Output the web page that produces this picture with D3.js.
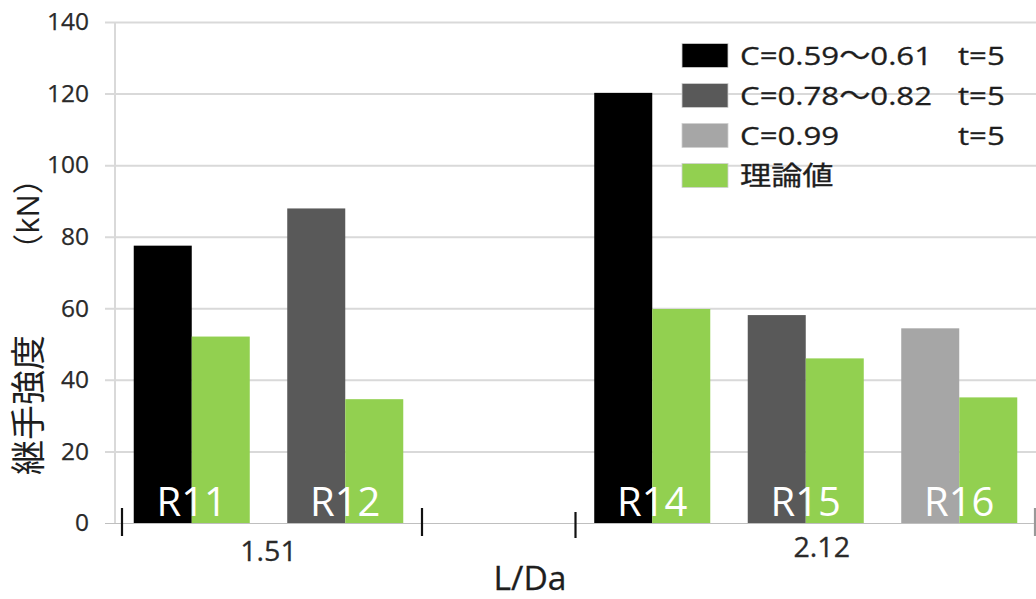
<!DOCTYPE html>
<html>
<head>
<meta charset="utf-8">
<script src="https://cdn.jsdelivr.net/npm/d3@7/dist/d3.min.js"></script>
<style>
  html, body { margin: 0; padding: 0; background: #fff; }
  svg { display: block; }
  text { font-family: 'Open Sans', 'Noto Sans CJK JP', sans-serif; }
</style>
</head>
<body>
<svg id="chart" width="1036" height="599"></svg>
<script>
// Specimens along the category axis (R13 has no result)
const categories = ["R11", "R12", "R13", "R14", "R15", "R16"];
// Measured joint strength (kN)
const measured = [77.5, 87.9, null, 120.2, 58.1, 54.4];
// Which C range each measured bar belongs to (index into seriesNames)
const cGroup = [0, 1, null, 0, 1, 2];
// Theoretical strength (kN)
const theory = [52.1, 34.6, null, 59.8, 46.0, 35.1];

// Legend entries
const seriesNames = ["C=0.59～0.61", "C=0.78～0.82", "C=0.99", "理論値"];
const seriesSuffix = ["t=5", "t=5", "t=5", ""];
const seriesColors = ["#000000", "#595959", "#a6a6a6", "#92d050"];

// L/Da groups along the axis
const groupLabels = ["1.51", "2.12"];
const groupMembers = [["R11", "R12"], ["R14", "R15", "R16"]];

const yTicks = [0, 20, 40, 60, 80, 100, 120, 140];

const svg = d3.select("#chart");
const plotLeft = 115, plotRight = 1036, plotTop = 22, plotBottom = 523;
const ink = "#1e1e1e";

const x = d3.scaleBand().domain(categories).range([plotLeft, plotRight]).paddingInner(0).paddingOuter(0);
const xs = d3.scaleBand().domain(["measured", "theory"]).range([0, x.bandwidth()])
  .paddingInner(0).paddingOuter(0.323);
const y = d3.scaleLinear().domain([0, 140]).range([plotBottom, plotTop]);

// Gridlines + y axis
const yAxis = d3.axisLeft(y).tickValues(yTicks).tickSize(-(plotRight - plotLeft + 10)).tickPadding(18);
const gy = svg.append("g").attr("transform", `translate(${plotLeft - 10},0)`).call(yAxis);
gy.select(".domain").remove();
gy.selectAll(".tick line").attr("stroke", "#d9d9d9").attr("stroke-width", 2);
gy.selectAll(".tick text")
  .attr("font-size", 24.5).attr("fill", "#2a2a2a").attr("x", -16)
  .attr("stroke", "#2a2a2a").attr("stroke-width", 0.25)
  .attr("font-family", "'Open Sans', sans-serif");
gy.selectAll(".tick").filter(d => d === 0).select("line").attr("stroke", "#bfbfbf").attr("stroke-width", 1.2);

svg.append("line").attr("x1", plotLeft).attr("x2", plotLeft).attr("y1", plotTop).attr("y2", plotBottom)
  .attr("stroke", "#d9d9d9").attr("stroke-width", 2);

// Bars
const rows = categories.map((c, i) => ({ c, i, m: measured[i], t: theory[i], g: cGroup[i] }))
  .filter(d => d.m != null);

const barG = svg.append("g");
barG.selectAll("rect.m").data(rows).join("rect").attr("class", "m")
  .attr("x", d => x(d.c) + xs("measured"))
  .attr("width", xs.bandwidth())
  .attr("y", d => y(d.m))
  .attr("height", d => y(0) - y(d.m))
  .attr("fill", d => seriesColors[d.g]);
barG.selectAll("rect.t").data(rows).join("rect").attr("class", "t")
  .attr("x", d => x(d.c) + xs("theory"))
  .attr("width", xs.bandwidth())
  .attr("y", d => y(d.t))
  .attr("height", d => y(0) - y(d.t))
  .attr("fill", seriesColors[3]);

// Specimen names inside the bars
barG.selectAll("text.lab").data(rows).join("text").attr("class", "lab")
  .attr("x", d => x(d.c) + x.bandwidth() / 2)
  .attr("y", plotBottom - 7)
  .attr("text-anchor", "middle")
  .attr("font-size", 40)
  .attr("fill", "#fff")
  .text(d => d.c);

// Group divider marks on the category axis
const groupEdges = [];
groupMembers.forEach(m => {
  groupEdges.push(x(m[0]));
  groupEdges.push(x(m[m.length - 1]) + x.bandwidth());
});
svg.append("g").selectAll("line").data(groupEdges).join("line")
  .attr("x1", (d, i) => i === 0 ? d + 7 : Math.min(d, plotRight - 1))
  .attr("x2", (d, i) => i === 0 ? d + 7 : Math.min(d, plotRight - 1))
  .attr("y1", (d, i) => i === 2 ? plotBottom - 11 : plotBottom - 15)
  .attr("y2", (d, i) => i === 2 ? plotBottom + 15 : plotBottom + 13)
  .attr("stroke", (d, i) => i === 3 ? "#999" : "#111")
  .attr("stroke-width", 2.2);

// Group labels
const groupNudge = [0, 16];
const groupBase = [561, 557];
groupLabels.forEach((lab, i) => {
  const m = groupMembers[i];
  const cx = (x(m[0]) + x(m[m.length - 1]) + x.bandwidth()) / 2 + groupNudge[i];
  svg.append("text")
    .attr("transform", `translate(${cx},${groupBase[i]}) scale(1.08,1)`)
    .attr("text-anchor", "middle")
    .attr("font-size", 26.5)
    .attr("fill", "#2a2a2a")
    .attr("stroke", "#2a2a2a").attr("stroke-width", 0.25)
    .text(lab);
});

// Axis titles
svg.append("text")
  .attr("transform", "translate(530,590) scale(1.05,1)")
  .attr("text-anchor", "middle")
  .attr("font-size", 32)
  .attr("fill", ink)
  .attr("stroke", ink).attr("stroke-width", 0.3)
  .text("L/Da");

svg.append("text")
  .attr("transform", "translate(41,405) rotate(-90)")
  .attr("text-anchor", "middle")
  .attr("font-size", 35)
  .attr("font-family", "'Noto Sans CJK JP', sans-serif")
  .attr("fill", ink)
  .text("継手強度");
svg.append("text")
  .attr("transform", "translate(39,214) rotate(-90)")
  .attr("text-anchor", "middle")
  .attr("font-size", 31)
  .attr("font-family", "'Noto Sans CJK JP', sans-serif")
  .attr("fill", ink)
  .text("（kN）");

// Legend
const legend = svg.append("g");
const legendRows = legend.selectAll("g").data(seriesNames).join("g")
  .attr("transform", (d, i) => `translate(682,${43.5 + i * 40})`);
legendRows.append("rect")
  .attr("width", 46).attr("height", 24)
  .attr("fill", (d, i) => seriesColors[i])
  .attr("stroke", "#d0d0d0").attr("stroke-width", 0.8);
legendRows.append("text")
  .attr("transform", "translate(58,21) scale(1.2,1)")
  .attr("font-size", 26)
  .attr("fill", ink)
  .attr("stroke", ink).attr("stroke-width", 0.3)
  .text(d => d);
legendRows.append("text")
  .attr("transform", "translate(276,21) scale(1.2,1)")
  .attr("font-size", 26)
  .attr("fill", ink)
  .attr("stroke", ink).attr("stroke-width", 0.3)
  .text((d, i) => seriesSuffix[i]);
</script>
</body>
</html>
